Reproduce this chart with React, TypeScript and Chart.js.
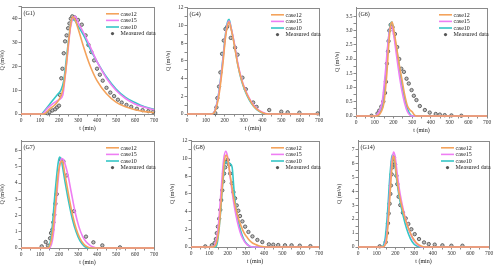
import React, { useEffect, useRef } from 'react';
import { Chart, registerables } from 'chart.js';
Chart.register(...registerables);

const caseNames = ['case12', 'case15', 'case10'];
const caseColors = ['#F4A35C', '#EE7EF3', '#34C6C6'];
const measuredName = 'Measured data';
const xLabel = 't (min)';
const yLabel = 'Q (m\u00B3/s)';

// ---- G1 ----
const g1Case12T = [0, 120, 150, 180, 200, 220, 235, 250, 262, 272, 285, 300, 330, 360, 400, 450, 500, 550, 600, 650, 700];
const g1Case12Q = [0, 0, 2, 4, 6, 10, 18, 30, 38, 40.8, 39.5, 36, 28, 21, 14, 8.5, 5, 3, 1.8, 1, 0.6];
const g1Case15T = [0, 110, 140, 170, 200, 220, 230, 245, 260, 275, 285, 300, 330, 360, 400, 450, 500, 550, 600, 650, 700];
const g1Case15Q = [0, 0, 2.5, 4.5, 6, 8, 14, 25, 36, 40.5, 41, 38.5, 34, 29, 22, 15, 10, 6.5, 4.2, 2.8, 1.8];
const g1Case10T = [0, 105, 130, 160, 190, 210, 225, 240, 255, 268, 278, 300, 330, 360, 400, 450, 500, 550, 600, 650, 700];
const g1Case10Q = [0, 0, 2, 5, 8, 10, 14, 24, 34, 39.5, 39.5, 37, 33, 28, 22, 15.5, 10.5, 7, 4.8, 3, 2];
const g1MeasT = [140, 150, 165, 180, 190, 200, 205, 212, 218, 225, 232, 240, 248, 255, 262, 270, 283, 300, 320, 340, 355, 370, 385, 400, 415, 430, 450, 470, 490, 510, 530, 555, 580, 610, 640, 670, 695];
const g1MeasQ = [0.3, 0.8, 1.5, 2, 2.8, 3.5, 8, 15, 19, 25.5, 30.5, 33, 36, 38, 40, 41, 40.5, 39.5, 37.5, 33, 29, 26, 22.5, 19, 16.5, 14, 11, 9, 7.5, 6, 4.8, 3.8, 3, 2.2, 1.6, 1.2, 0.9];

// ---- G4 ----
const g4LineT = [0, 130, 150, 170, 190, 205, 215, 223, 235, 250, 270, 290, 310, 330, 350, 370, 400, 430, 700];
const g4Case12Q = [0, 0, 0.4, 2.2, 5.6, 8.8, 10, 10.4, 9.5, 7.9, 5.5, 3.8, 2.6, 1.7, 1.0, 0.55, 0.15, 0, 0];
const g4Case15Q = [0, 0, 0.5, 2.5, 6, 9, 10.2, 10.5, 9.6, 8.1, 5.7, 3.9, 2.7, 1.8, 1.1, 0.6, 0.2, 0, 0];
const g4Case10Q = [0, 0, 0.5, 2.6, 6.2, 9.2, 10.4, 10.7, 9.6, 8, 5.5, 3.7, 2.5, 1.6, 0.95, 0.5, 0.12, 0, 0];
const g4MeasT = [150, 156, 161, 170, 177, 186, 195, 204, 213, 232, 255, 268, 294, 312, 351, 369, 436, 500, 534, 596, 693];
const g4MeasQ = [0.1, 0.75, 1.8, 3.1, 4.7, 6.8, 8.3, 9.6, 9.85, 8.6, 7.5, 6.7, 4.1, 2.8, 1.3, 0.8, 0.45, 0.26, 0.19, 0.15, 0.07];

// ---- G6 ----
const g6Case12T = [0, 110, 130, 150, 165, 175, 185, 193, 200, 215, 230, 245, 260, 275, 290, 300, 310, 320, 700];
const g6Case12Q = [0, 0, 0.1, 0.5, 1.5, 2.5, 3.2, 3.3, 3.1, 2.5, 1.85, 1.3, 0.75, 0.35, 0.2, 0.15, 0.05, 0, 0];
const g6Case15T = [0, 100, 120, 140, 155, 170, 182, 190, 200, 215, 230, 245, 260, 275, 290, 300, 700];
const g6Case15Q = [0, 0, 0.1, 0.5, 1.4, 2.5, 3.1, 3.15, 2.9, 2.2, 1.5, 0.9, 0.45, 0.15, 0.02, 0, 0];
const g6Case10T = [0, 100, 125, 145, 160, 172, 185, 192, 200, 215, 230, 245, 260, 275, 290, 300, 700];
const g6Case10Q = [0, 0, 0.1, 0.5, 1.5, 2.6, 3.25, 3.3, 3.0, 2.4, 1.8, 1.1, 0.6, 0.25, 0.05, 0, 0];
const g6MeasT = [83, 115, 124, 135, 146, 155, 160, 165, 171, 174, 178, 185, 195, 208, 220, 231, 242, 256, 270, 282, 297, 309, 323, 341, 368, 394, 426, 448, 474, 510, 563];
const g6MeasQ = [0.01, 0.09, 0.19, 0.33, 0.51, 0.81, 1.2, 1.84, 2.27, 2.63, 3.0, 3.2, 3.12, 2.88, 2.42, 2.0, 1.66, 1.55, 1.31, 1.14, 0.91, 0.71, 0.56, 0.35, 0.21, 0.12, 0.07, 0.05, 0.03, 0.02, 0.01];

// ---- G7 ----
const g7Case12T = [0, 140, 160, 180, 195, 210, 218, 230, 250, 270, 290, 310, 330, 350, 370, 700];
const g7Case12Q = [0, 0, 0.5, 2.5, 4.5, 5.3, 5.35, 4.6, 3.3, 2.1, 1.2, 0.6, 0.25, 0.07, 0, 0];
const g7Case15T = [0, 150, 170, 190, 205, 215, 225, 245, 265, 285, 305, 325, 345, 365, 385, 400, 700];
const g7Case15Q = [0, 0, 0.8, 3.5, 5.2, 5.5, 5.4, 4.6, 3.4, 2.2, 1.3, 0.7, 0.35, 0.15, 0.05, 0, 0];
const g7Case10T = [0, 140, 160, 180, 195, 203, 212, 230, 250, 270, 290, 310, 330, 345, 355, 700];
const g7Case10Q = [0, 0, 0.8, 3.5, 5.2, 5.6, 5.4, 4.2, 2.9, 1.8, 1.0, 0.45, 0.15, 0.03, 0, 0];
const g7MeasT = [109, 130, 142, 153, 158, 165, 170, 175, 181, 188, 210, 223, 240, 279, 342, 381, 428, 521];
const g7MeasQ = [0.1, 0.37, 0.15, 0.6, 0.92, 1.13, 1.58, 2.05, 2.73, 3.32, 5.43, 5.33, 4.47, 2.27, 0.7, 0.35, 0.16, 0.04];

// ---- G8 ----
const g8Case12T = [0, 120, 140, 155, 170, 183, 192, 200, 215, 230, 245, 260, 275, 290, 310, 330, 350, 370, 390, 410, 700];
const g8Case12Q = [0, 0, 0.5, 2.5, 6.5, 9.7, 10.4, 10.0, 8.0, 6.0, 4.4, 3.2, 2.3, 1.6, 1.0, 0.55, 0.3, 0.15, 0.05, 0, 0];
const g8Case15T = [0, 115, 135, 150, 165, 178, 190, 200, 215, 230, 245, 260, 275, 290, 305, 320, 340, 700];
const g8Case15Q = [0, 0, 0.5, 2.5, 6.5, 9.8, 10.8, 10.2, 7.8, 5.5, 3.7, 2.3, 1.3, 0.7, 0.3, 0.1, 0, 0];
const g8Case10T = [0, 135, 145, 160, 175, 190, 205, 215, 225, 235, 245, 260, 275, 290, 305, 320, 330, 700];
const g8Case10Q = [0, 0, 0.6, 3.5, 7.5, 9.6, 9.5, 9.4, 9.0, 6.5, 4.4, 2.8, 1.6, 0.8, 0.35, 0.1, 0, 0];
const g8MeasT = [78, 114, 129, 136, 141, 147, 154, 160, 165, 171, 176, 181, 187, 194, 201, 209, 214, 223, 232, 241, 250, 259, 268, 281, 296, 314, 336, 363, 390, 426, 450, 477, 514, 550, 595, 653];
const g8MeasQ = [0.07, 0.2, 0.45, 0.9, 1.57, 2.3, 3.2, 4.2, 5.3, 6.4, 7.4, 8.3, 9.0, 9.6, 9.85, 9.3, 8.3, 7.2, 6.2, 5.5, 4.7, 4.1, 3.5, 2.9, 2.3, 1.7, 1.2, 0.8, 0.56, 0.3, 0.26, 0.22, 0.19, 0.19, 0.15, 0.1];

// ---- G14 ----
const g14Case12T = [0, 130, 150, 160, 170, 180, 188, 195, 205, 220, 240, 260, 280, 300, 320, 340, 360, 700];
const g14Case12Q = [0, 0, 0.3, 1.5, 3.5, 5.5, 6.5, 6.3, 5.2, 3.8, 2.6, 1.7, 1.0, 0.5, 0.2, 0.05, 0, 0];
const g14Case15T = [0, 130, 150, 162, 172, 182, 190, 198, 210, 225, 245, 265, 285, 305, 325, 345, 700];
const g14Case15Q = [0, 0, 0.5, 2.2, 4.5, 6.2, 6.8, 6.5, 5.2, 3.8, 2.5, 1.5, 0.8, 0.35, 0.1, 0, 0];
const g14Case10T = [0, 125, 145, 158, 170, 180, 186, 195, 205, 220, 240, 260, 280, 300, 320, 330, 700];
const g14Case10Q = [0, 0, 0.6, 2.5, 5.0, 6.4, 6.6, 6.2, 5.0, 3.6, 2.3, 1.3, 0.6, 0.2, 0.03, 0, 0];
const g14MeasT = [116, 148, 155, 160, 164, 169, 173, 176, 180, 184, 187, 192, 198, 205, 210, 217, 226, 240, 255, 269, 285, 303, 326, 353, 378, 410, 451, 499, 558];
const g14MeasQ = [0.05, 0.35, 1.0, 1.7, 2.4, 3.1, 3.8, 4.4, 5.2, 5.7, 6.1, 6.4, 5.9, 5.1, 4.5, 3.6, 3.0, 2.45, 2.05, 1.65, 1.27, 0.92, 0.57, 0.33, 0.21, 0.17, 0.12, 0.09, 0.09];

type Panel = {
  label: string;
  lines: [number[], number[]][];
  meas: [number[], number[]];
  yMax: number;
  yMajor: number;
  yDecimals: number;
  plot: [number, number, number, number]; // left, top, right, bottom
};

const panels: Panel[] = [
  { label: '(G1)', lines: [[g1Case12T, g1Case12Q], [g1Case15T, g1Case15Q], [g1Case10T, g1Case10Q]], meas: [g1MeasT, g1MeasQ], yMax: 45, yMajor: 10, yDecimals: 0, plot: [21, 6, 154, 114] },
  { label: '(G4)', lines: [[g4LineT, g4Case12Q], [g4LineT, g4Case15Q], [g4LineT, g4Case10Q]], meas: [g4MeasT, g4MeasQ], yMax: 12, yMajor: 2, yDecimals: 0, plot: [187, 7, 319, 114] },
  { label: '(G6)', lines: [[g6Case12T, g6Case12Q], [g6Case15T, g6Case15Q], [g6Case10T, g6Case10Q]], meas: [g6MeasT, g6MeasQ], yMax: 3.8, yMajor: 0.5, yDecimals: 1, plot: [356, 7, 487, 116] },
  { label: '(G7)', lines: [[g7Case12T, g7Case12Q], [g7Case15T, g7Case15Q], [g7Case10T, g7Case10Q]], meas: [g7MeasT, g7MeasQ], yMax: 6.6, yMajor: 1, yDecimals: 0, plot: [21, 140, 154, 248] },
  { label: '(G8)', lines: [[g8Case12T, g8Case12Q], [g8Case15T, g8Case15Q], [g8Case10T, g8Case10Q]], meas: [g8MeasT, g8MeasQ], yMax: 12, yMajor: 2, yDecimals: 0, plot: [191, 140, 319, 247] },
  { label: '(G14)', lines: [[g14Case12T, g14Case12Q], [g14Case15T, g14Case15Q], [g14Case10T, g14Case10Q]], meas: [g14MeasT, g14MeasQ], yMax: 7.6, yMajor: 1, yDecimals: 0, plot: [358, 140, 489, 247] },
];

const Y_W = 22;
const X_H = 18;
const PAD_T = 4;
const PAD_R = 7;
const FONT = "'Liberation Serif', 'Times New Roman', serif";
const FRAME = '#8a8a8a';

function isMajor(v: number, major: number) {
  const r = Math.abs(v / major - Math.round(v / major));
  return r < 1e-6;
}

function PanelChart({ p }: { p: Panel }) {
  const ref = useRef<HTMLCanvasElement | null>(null);
  const [l, t, r, b] = p.plot;
  const left = l - Y_W;
  const top = t - PAD_T;
  const width = r - l + Y_W + PAD_R;
  const height = b - t + PAD_T + X_H;

  useEffect(() => {
    if (!ref.current) return;
    const decor = {
      id: 'decor',
      beforeDatasetsDraw(chart: any) {
        const ctx = chart.ctx;
        const a = chart.chartArea;
        ctx.save();
        ctx.strokeStyle = FRAME;
        ctx.lineWidth = 1;
        ctx.strokeRect(Math.round(a.left) + 0.5, Math.round(a.top) + 0.5, Math.round(a.right - a.left), Math.round(a.bottom - a.top));
        ctx.restore();
      },
      afterDatasetsDraw(chart: any) {
        const ctx = chart.ctx;
        const a = chart.chartArea;
        ctx.save();
        // panel label
        ctx.fillStyle = '#222';
        ctx.font = `6px ${FONT}`;
        ctx.textBaseline = 'middle';
        ctx.textAlign = 'left';
        ctx.fillText(p.label, a.left + 2.5, a.top + 7);
        // legend
        const lx = a.right - 48;
        for (let i = 0; i < 4; i++) {
          const ly = a.top + 7 + i * 6.6;
          if (i < 3) {
            ctx.strokeStyle = caseColors[i];
            ctx.lineWidth = 1.6;
            ctx.beginPath();
            ctx.moveTo(lx, ly);
            ctx.lineTo(lx + 13, ly);
            ctx.stroke();
          } else {
            ctx.fillStyle = '#555';
            ctx.beginPath();
            ctx.arc(lx + 6.5, ly, 1.6, 0, Math.PI * 2);
            ctx.fill();
          }
          ctx.fillStyle = '#222';
          ctx.fillText(i < 3 ? caseNames[i] : measuredName, lx + 14.5, ly + 0.3);
        }
        ctx.restore();
      },
    };

    const datasets: any[] = p.lines.map(([ts, qs], i) => ({
      type: 'line',
      label: caseNames[i],
      data: ts.map((x, k) => ({ x, y: qs[k] })),
      borderColor: caseColors[i],
      backgroundColor: caseColors[i],
      borderWidth: 1.6,
      pointRadius: 0,
      cubicInterpolationMode: 'monotone',
      fill: false,
      clip: 3,
    }));
    datasets.push({
      type: 'scatter',
      label: measuredName,
      data: p.meas[0].map((x, k) => ({ x, y: p.meas[1][k] })),
      pointRadius: 1.7,
      pointBackgroundColor: '#bdbdbd',
      pointBorderColor: '#4a4a4a',
      pointBorderWidth: 0.8,
      showLine: false,
      clip: 3,
    });

    const tickFont = { family: FONT, size: 5.5 };
    const chart = new Chart(ref.current, {
      type: 'line',
      data: { datasets },
      options: {
        animation: false,
        responsive: false,
        events: [],
        layout: { padding: { top: PAD_T, right: PAD_R, left: 0, bottom: 0 } },
        plugins: { legend: { display: false }, tooltip: { enabled: false } },
        scales: {
          x: {
            type: 'linear',
            min: 0,
            max: 700,
            afterFit: (s: any) => { s.height = X_H; },
            ticks: {
              stepSize: 50,
              autoSkip: false,
              maxRotation: 0,
              padding: 1,
              color: '#333',
              font: tickFont,
              callback: (v: any) => (isMajor(Number(v), 100) ? String(v) : ''),
            },
            grid: { drawOnChartArea: false, drawTicks: true, tickLength: 2.5, tickColor: FRAME },
            border: { color: FRAME },
            title: { display: true, text: xLabel, color: '#222', font: { family: FONT, size: 6 }, padding: { top: 0, bottom: 0 } },
          },
          y: {
            type: 'linear',
            min: 0,
            max: p.yMax,
            afterFit: (s: any) => { s.width = Y_W; },
            ticks: {
              stepSize: p.yMajor / 2,
              autoSkip: false,
              padding: 1,
              color: '#333',
              font: tickFont,
              callback: (v: any) => (isMajor(Number(v), p.yMajor) ? Number(v).toFixed(p.yDecimals) : ''),
            },
            grid: {
              drawOnChartArea: false,
              drawTicks: true,
              tickLength: 2.5,
              tickColor: (c: any) => (c.tick && c.tick.value > p.yMax - 1e-9 && !isMajor(c.tick.value, p.yMajor / 2) ? 'rgba(0,0,0,0)' : FRAME),
            },
            border: { color: FRAME },
            title: { display: true, text: yLabel, color: '#222', font: { family: FONT, size: 6 }, padding: { top: 0, bottom: 1 } },
          },
        },
      } as any,
      plugins: [decor],
    });
    return () => chart.destroy();
  }, []);

  return (
    <canvas
      ref={ref}
      width={width}
      height={height}
      style={{ position: 'absolute', left, top, width, height }}
    />
  );
}

export default function App() {
  return (
    <div style={{ position: 'absolute', left: 0, top: 0, width: 500, height: 266, background: '#fff', overflow: 'hidden' }}>
      {panels.map((p) => (
        <PanelChart key={p.label} p={p} />
      ))}
    </div>
  );
}
